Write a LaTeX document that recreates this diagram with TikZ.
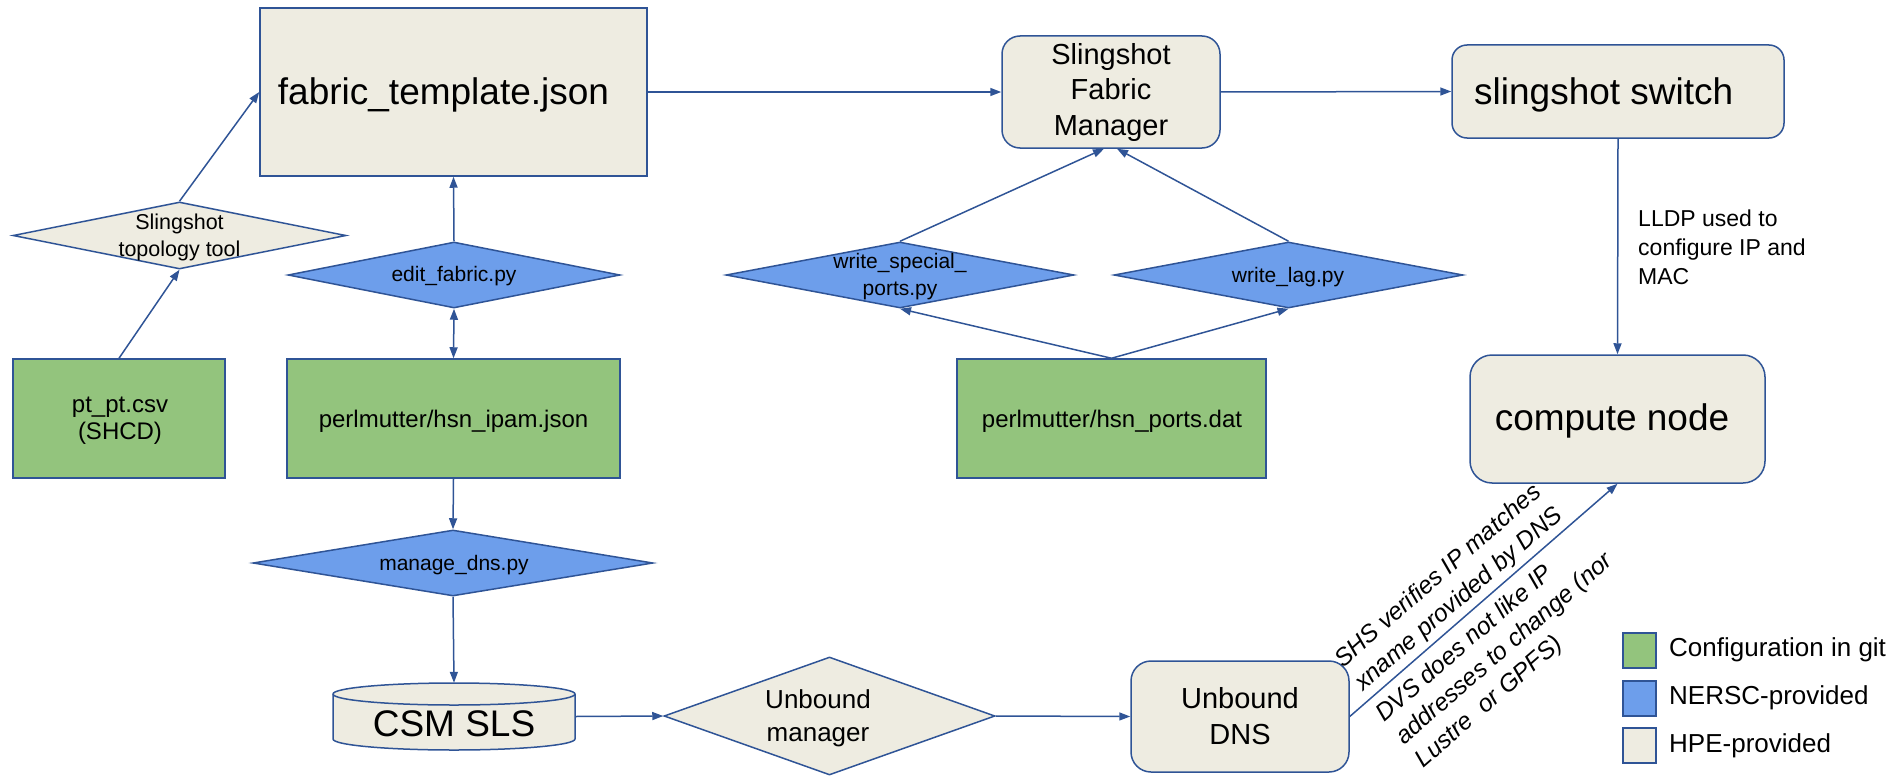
\documentclass[tikz,border=0pt]{standalone}
\usepackage{fontspec}
\setmainfont{Liberation Sans}
\usetikzlibrary{arrows.meta,shapes.geometric,calc}
\definecolor{hpe}{HTML}{EEECE1}
\definecolor{git}{HTML}{93C47D}
\definecolor{nersc}{HTML}{6D9EEB}
\definecolor{edge}{HTML}{2F5496}
\newcommand\myfs[2]{\fontsize{#1pt}{#2pt}\selectfont}
\begin{document}
\begin{tikzpicture}[x=1pt,y=-1pt,
  box/.style={draw=edge, line width=1.5pt, rectangle, inner sep=0pt},
  dia/.style={draw=edge, line width=1.5pt, diamond, aspect=5, inner sep=0pt},
  txt/.style={inner sep=0pt, align=center, text=black},
  arr/.style={draw=edge, line width=1.5pt, -{Triangle[length=11pt,width=8pt]}},
  darr/.style={draw=edge, line width=1.5pt, {Triangle[length=11pt,width=8pt]}-{Triangle[length=11pt,width=8pt]}},
]
\useasboundingbox (0,0) rectangle (1897,776);

% left column
\node[box, fill=hpe, minimum width=387pt, minimum height=168pt] (ft) at (453.5,92) {};
\node[txt, font=\myfs{37}{44}] (ftT) at (443.5,95) {fabric\_template.json};

\node[dia, fill=hpe, minimum width=333pt, minimum height=67pt] (topo) at (179.5,235.5) {};
\node[txt, font=\myfs{21.5}{27}] (topoT) at (179.5,237.5) {Slingshot\\topology tool};

\node[box, fill=git, minimum width=212pt, minimum height=119pt] (ptpt) at (119,418.5) {};
\node[txt, font=\myfs{24}{27}] (ptptT) at (120,420.5) {pt\_pt.csv\\(SHCD)};

\node[dia, fill=nersc, minimum width=332pt, minimum height=66pt] (ef) at (454,275) {};
\node[txt, font=\myfs{21}{26}] (efT) at (454,276) {edit\_fabric.py};

\node[box, fill=git, minimum width=333pt, minimum height=119pt] (ipam) at (453.5,418.5) {};
\node[txt, font=\myfs{24}{29}] (ipamT) at (453.5,421) {perlmutter/hsn\_ipam.json};

\node[dia, fill=nersc, minimum width=400pt, minimum height=66pt] (md) at (453,563) {};
\node[txt, font=\myfs{21}{26}] (mdT) at (454,565) {manage\_dns.py};

% cylinder CSM SLS
\draw[draw=edge, line width=1.5pt, fill=hpe] (333,694) -- (333,739)
  arc[start angle=180, end angle=360, x radius=121pt, y radius=11pt] -- (575,694)
  arc[start angle=0, end angle=180, x radius=121pt, y radius=11pt] -- cycle;
\draw[draw=edge, line width=1.5pt] (333,694)
  arc[start angle=180, end angle=360, x radius=121pt, y radius=11pt];
\node[inner sep=0pt, minimum width=242pt, minimum height=67pt] (csm) at (454,716.5) {};
\node[txt, font=\myfs{37}{44}] (csmT) at (454,724) {CSM SLS};

\node[dia, fill=hpe, minimum width=331pt, minimum height=118pt] (um) at (829.5,716) {};
\node[txt, font=\myfs{26}{33}] (umT) at (818,718.5) {Unbound\\manager};

\node[box, fill=hpe, rounded corners=20pt, minimum width=218pt, minimum height=111pt] (udns) at (1240,716.5) {};
\node[txt, font=\myfs{29}{36}] (udnsT) at (1240,716) {Unbound\\DNS};

% middle
\node[box, fill=hpe, rounded corners=18pt, minimum width=218pt, minimum height=112pt] (fm) at (1111,92) {};
\node[txt, font=\myfs{29}{35.5}] (fmT) at (1111,92.5) {Slingshot\\Fabric\\Manager};

\node[dia, fill=nersc, minimum width=348pt, minimum height=66pt] (wsp) at (900,275) {};
\node[txt, font=\myfs{21}{27}] (wspT) at (900,276.5) {write\_special\_\\ports.py};

\node[dia, fill=nersc, minimum width=349pt, minimum height=66pt] (wlag) at (1288.5,275) {};
\node[txt, font=\myfs{21}{26}] (wlagT) at (1288,277) {write\_lag.py};

\node[box, fill=git, minimum width=309pt, minimum height=119pt] (ports) at (1111.5,418.5) {};
\node[txt, font=\myfs{24}{29}] (portsT) at (1112,421) {perlmutter/hsn\_ports.dat};

% right
\node[box, fill=hpe, rounded corners=15pt, minimum width=332pt, minimum height=93pt] (sw) at (1618,91.5) {};
\node[txt, anchor=west, font=\myfs{37}{44}] (swT) at (1474,95) {slingshot switch};

\node[box, fill=hpe, rounded corners=22pt, minimum width=295pt, minimum height=128pt] (cn) at (1617.5,419) {};
\node[txt, font=\myfs{37}{44}] (cnT) at (1612,421) {compute node};

\node[txt, align=left, anchor=west, font=\myfs{23}{29}] (lldp) at (1638,247) {LLDP used to\\configure IP and\\MAC};

% legend
\node[box, fill=git, minimum width=33pt, minimum height=35pt] (lg1) at (1639.5,650.5) {};
\node[box, fill=nersc, minimum width=33pt, minimum height=35pt] (lg2) at (1639.5,698.5) {};
\node[box, fill=hpe, minimum width=33pt, minimum height=35pt] (lg3) at (1639.5,745.5) {};
\node[txt, anchor=west, font=\myfs{26}{30}] (lg1T) at (1669,650) {Configuration in git};
\node[txt, anchor=west, font=\myfs{26}{30}] (lg2T) at (1669,698) {NERSC-provided};
\node[txt, anchor=west, font=\myfs{26}{30}] (lg3T) at (1669,746) {HPE-provided};

% connectors
\draw[arr] (ptpt.north) -- (topo.south);
\draw[arr] (topo.north) -- (ft.west);
\draw[arr] (ef.north) -- (ft.south);
\draw[darr] (ef.south) -- (ipam.north);
\draw[arr] (ipam.south) -- (md.north);
\draw[arr] (md.south) -- (csm.north);
\draw[arr] (csm.east) -- (um.west);
\draw[arr] (um.east) -- (udns.west);
\draw[arr] (ft.east) -- (fm.west);
\draw[arr] (fm.east) -- (sw.west);
\draw[arr] (sw.south) -- (cn.north);
\draw[arr] (wsp.north) -- ($(fm.south)+(-7,0)$);
\draw[arr] (wlag.north) -- ($(fm.south)+(6,0)$);
\draw[arr] (ports.north) -- (wsp.south);
\draw[arr] (ports.north) -- (wlag.south);
\draw[arr] (udns.east) -- (cn.south)
  node[pos=0.073, sloped, anchor=south west, txt, align=left, font=\myfs{24.5}{31}\itshape, inner ysep=4pt] (shs) {SHS verifies IP matches\\xname provided by DNS}
  node[pos=0.06, sloped, anchor=north west, txt, align=left, font=\myfs{24.5}{30}\itshape, inner ysep=9pt] (dvs) {DVS does not like IP\\addresses to change (nor\\Lustre\ \ or GPFS)};
\end{tikzpicture}
\end{document}
